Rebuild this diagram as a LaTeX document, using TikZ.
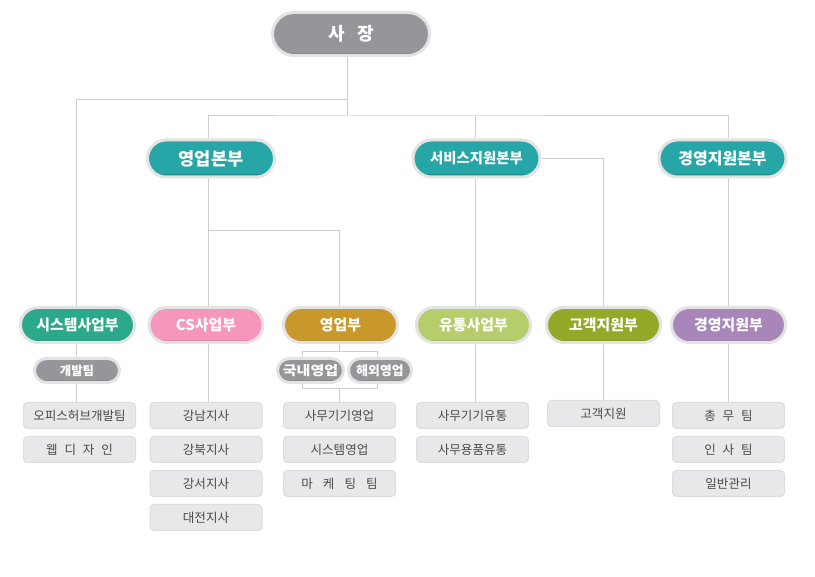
\documentclass[tikz,border=0pt]{standalone}
\usepackage{fontspec}
\setmainfont{Noto Sans CJK KR}
\usetikzlibrary{shapes.misc,backgrounds}
\definecolor{ring}{HTML}{E3E3E3}
\definecolor{linec}{HTML}{CFCFCF}
\definecolor{gry}{HTML}{96969A}\definecolor{gryd}{HTML}{7E7E82}
\definecolor{teal}{HTML}{27A6A8}\definecolor{teald}{HTML}{1E8E90}
\definecolor{sysc}{HTML}{2AAA8A}\definecolor{sysd}{HTML}{219176}
\definecolor{pnk}{HTML}{F796BD}\definecolor{pnkd}{HTML}{E07FA6}
\definecolor{gld}{HTML}{C9982A}\definecolor{gldd}{HTML}{AF831F}
\definecolor{lgr}{HTML}{B6CD6B}\definecolor{lgrd}{HTML}{9FB65B}
\definecolor{olv}{HTML}{93A927}\definecolor{olvd}{HTML}{7E921E}
\definecolor{prp}{HTML}{A886B9}\definecolor{prpd}{HTML}{9271A3}
\definecolor{boxf}{HTML}{E8E8EA}\definecolor{boxl}{HTML}{DDDDDF}
\definecolor{boxt}{HTML}{4A4A4A}
\newcommand\gp{\hspace{0.55em}}
\begin{document}
\begin{tikzpicture}[x=0.75pt,y=-0.75pt,
  pill/.style n args={4}{rounded rectangle, draw=ring, line width=2.25pt, fill=#2,
    text=white, inner sep=0pt, minimum width=0.75pt*#3, minimum height=0.75pt*#4,
    path picture={\fill[#1] ([yshift=2pt]path picture bounding box.south west) rectangle (path picture bounding box.north east);}},
  hqpill/.style={pill={teal}{teald}{127}{37}},
  dpill/.style 2 args={pill={#1}{#2}{114}{35}, font=\fontsize{11.2}{13}\selectfont\bfseries},
  tpill/.style={pill={gry}{gryd}{#1}{24}},
  ibox/.style={rectangle, rounded corners=3pt, fill=boxf, draw=boxl, line width=0.75pt,
    minimum width=0.75pt*112, minimum height=0.75pt*26, inner sep=0pt, text=boxt,
    font=\fontsize{9.4}{11}\selectfont},
  conn/.style={draw=linec, line width=0.75pt}]
\useasboundingbox (0,0) rectangle (815,577);
% top
\node[pill={gry}{gryd}{157}{43}, font=\fontsize{13.5}{15}\selectfont\bfseries] (ceo) at (351,34) {사\hspace{0.7em}장};
\node[hqpill, font=\fontsize{13.2}{15}\selectfont\bfseries] (hq1) at (211,158.5) {영업본부};
\node[hqpill, font=\fontsize{10.8}{12}\selectfont\bfseries] (hq2) at (476.5,158.5) {서비스지원본부};
\node[hqpill, font=\fontsize{12}{14}\selectfont\bfseries] (hq3) at (722.5,158.5) {경영지원본부};
% departments
\node[dpill={sysc}{sysd}] (d1) at (77.5,325) {시스템사업부};
\node[dpill={pnk}{pnkd}] (d2) at (206,325) {CS사업부};
\node[dpill={gld}{gldd}] (d3) at (340.5,325) {영업부};
\node[dpill={lgr}{lgrd}] (d4) at (473.5,325) {유통사업부};
\node[dpill={olv}{olvd}] (d5) at (603.5,325) {고객지원부};
\node[dpill={prp}{prpd}] (d6) at (728.5,325) {경영지원부};
% teams
\node[tpill=85, font=\fontsize{9.3}{10}\selectfont\bfseries] (t1) at (77,370.5) {개발팀};
\node[tpill=66, font=\fontsize{9.8}{10}\selectfont\bfseries] (t2) at (310.5,370.5) {\scalebox{1.15}[1]{국내영업}};
\node[tpill=63, font=\fontsize{9.6}{10}\selectfont\bfseries] (t3) at (380,370.5) {해외영업};
% boxes
\node[ibox] (b11) at (79.5,415.5) {오피스허브개발팀};
\node[ibox] (b12) at (79.5,449.5) {웹\gp 디\gp 자\gp 인};
\node[ibox] (b21) at (206,415.5) {강남지사};
\node[ibox] (b22) at (206,449.5) {강북지사};
\node[ibox] (b23) at (206,483.5) {강서지사};
\node[ibox] (b24) at (206,517.5) {대전지사};
\node[ibox] (b31) at (339.5,415.5) {사무기기영업};
\node[ibox] (b32) at (339.5,449.5) {시스템영업};
\node[ibox] (b33) at (339.5,483.5) {마\hspace{0.8em}케\hspace{0.8em}팅\hspace{0.8em}팀};
\node[ibox] (b41) at (472.5,415.5) {사무기기유통};
\node[ibox] (b42) at (472.5,449.5) {사무용품유통};
\node[ibox] (b51) at (603.5,413.5) {고객지원};
\node[ibox] (b61) at (728.5,415.5) {총\gp 무\gp 팀};
\node[ibox] (b62) at (728.5,449.5) {인\gp 사\gp 팀};
\node[ibox] (b63) at (728.5,483.5) {일반관리};
% junctions
\coordinate (j0) at (347,100);
\coordinate (j1) at (347,116);
\coordinate (c1) at (76,0);
\coordinate (c2) at (208,0);
\coordinate (k1) at (208,231);
\coordinate (c3) at (339,0);
\coordinate (c4) at (475,0);
\coordinate (c5) at (603,0);
\coordinate (c6) at (728,0);
\coordinate (ul) at (302,352);
\coordinate (ur) at (377,352);
\coordinate (vl) at (302,389);
\coordinate (vr) at (377,389);
\coordinate (u) at (339,352);
\coordinate (v) at (339,389);
\begin{pgfonlayer}{background}
\draw[conn] (ceo.south -| j0) -- (j1);
\draw[conn] (j0) -| (d1.north -| c1);
\draw[conn] (hq1.north -| c2) |- (j1) -| (hq3.north -| c6);
\draw[conn] (j1 -| c4) -- (hq2.north -| c4);
\draw[conn] (hq1.south -| c2) -- (d2.north -| c2);
\draw[conn] (k1) -| (d3.north -| c3);
\draw[conn] (hq2.east) -| (d5.north -| c5);
\draw[conn] (hq2.south -| c4) -- (d4.north -| c4);
\draw[conn] (hq3.south -| c6) -- (d6.north -| c6);
\draw[conn] (d1.south -| c1) -- (b11.north -| c1);
\draw[conn] (d2.south -| c2) -- (b21.north -| c2);
\draw[conn] (d3.south -| u) -- (u);
\draw[conn] (t2.north -| ul) -- (ul) -- (ur) -- (t3.north -| ur);
\draw[conn] (t2.south -| vl) -- (vl) -- (vr) -- (t3.south -| vr);
\draw[conn] (v) -- (b31.north -| v);
\draw[conn] (d4.south -| c4) -- (b41.north -| c4);
\draw[conn] (d5.south -| c5) -- (b51.north -| c5);
\draw[conn] (d6.south -| c6) -- (b61.north -| c6);
\end{pgfonlayer}
\end{tikzpicture}
\end{document}
